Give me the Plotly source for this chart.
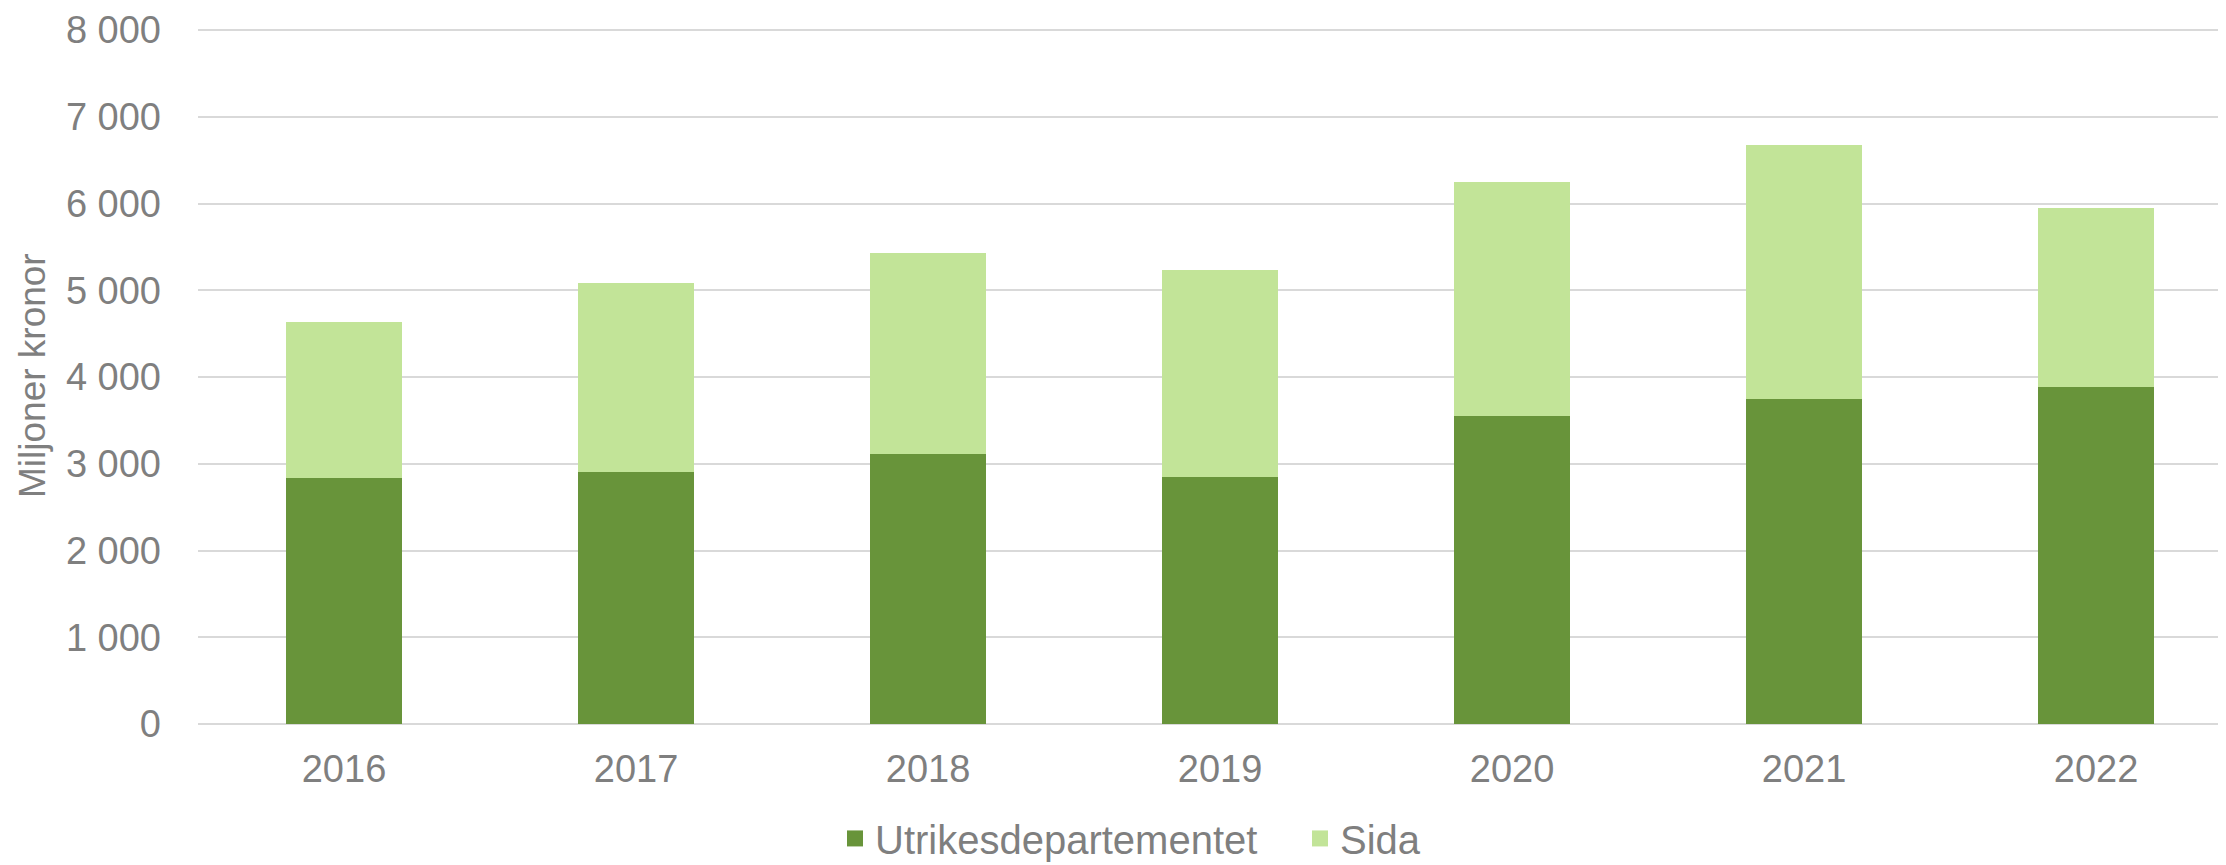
import plotly.graph_objects as go

years = ["2016", "2017", "2018", "2019", "2020", "2021", "2022"]
utrikesdepartementet = [2840, 2905, 3110, 2845, 3550, 3745, 3890]
sida = [1795, 2180, 2320, 2390, 2700, 2930, 2060]
tick_vals = [0, 1000, 2000, 3000, 4000, 5000, 6000, 7000, 8000]

dark = "#68943A"
light = "#C2E498"
grey = "#7F7F7F"
font_family = "Liberation Sans, Arial, sans-serif"

fig = go.Figure()
fig.add_trace(go.Bar(x=years, y=utrikesdepartementet, name="Utrikesdepartementet",
                     marker=dict(color=dark, line=dict(width=0)), width=0.4, showlegend=False))
fig.add_trace(go.Bar(x=years, y=sida, name="Sida",
                     marker=dict(color=light, line=dict(width=0)), width=0.4, showlegend=False))
# legend entries with larger square markers
fig.add_trace(go.Scatter(x=[None], y=[None], mode="markers", name="Utrikesdepartementet",
                         marker=dict(symbol="square", size=20, color=dark)))
fig.add_trace(go.Scatter(x=[None], y=[None], mode="markers", name="Sida",
                         marker=dict(symbol="square", size=20, color=light)))

fig.update_layout(
    width=2218, height=857,
    barmode="stack",
    plot_bgcolor="white", paper_bgcolor="white",
    separators=", ",
    margin=dict(l=190, r=0, t=20, b=141),
    font=dict(family=font_family, size=38, color=grey),
    legend=dict(orientation="h", xref="container", yref="container",
                x=827 / 2218, xanchor="left", y=0.031, yanchor="middle",
                traceorder="normal", entrywidth=420, entrywidthmode="pixels",
                font=dict(size=40, color=grey), itemwidth=30, tracegroupgap=0),
    annotations=[dict(text="Miljoner kronor", xref="paper", yref="paper", x=0, y=0.5,
                      xanchor="center", yanchor="middle", xshift=-166, textangle=-90,
                      showarrow=False, font=dict(size=37, color=grey, family=font_family))],
)
fig.update_xaxes(type="category", range=[-0.5, 6.445], showgrid=False, showline=False,
                 ticks="", tickfont=dict(size=38, color=grey), ticklabelstandoff=19)
fig.update_yaxes(range=[0, 8025], tickvals=tick_vals, tickformat=",d",
                 showgrid=True, gridcolor="#D9D9D9", gridwidth=1.5,
                 zeroline=True, zerolinecolor="#D9D9D9", zerolinewidth=1.5,
                 showline=False, ticks="", tickfont=dict(size=38, color=grey),
                 ticklabelstandoff=36)

fig.write_html("out.html")
